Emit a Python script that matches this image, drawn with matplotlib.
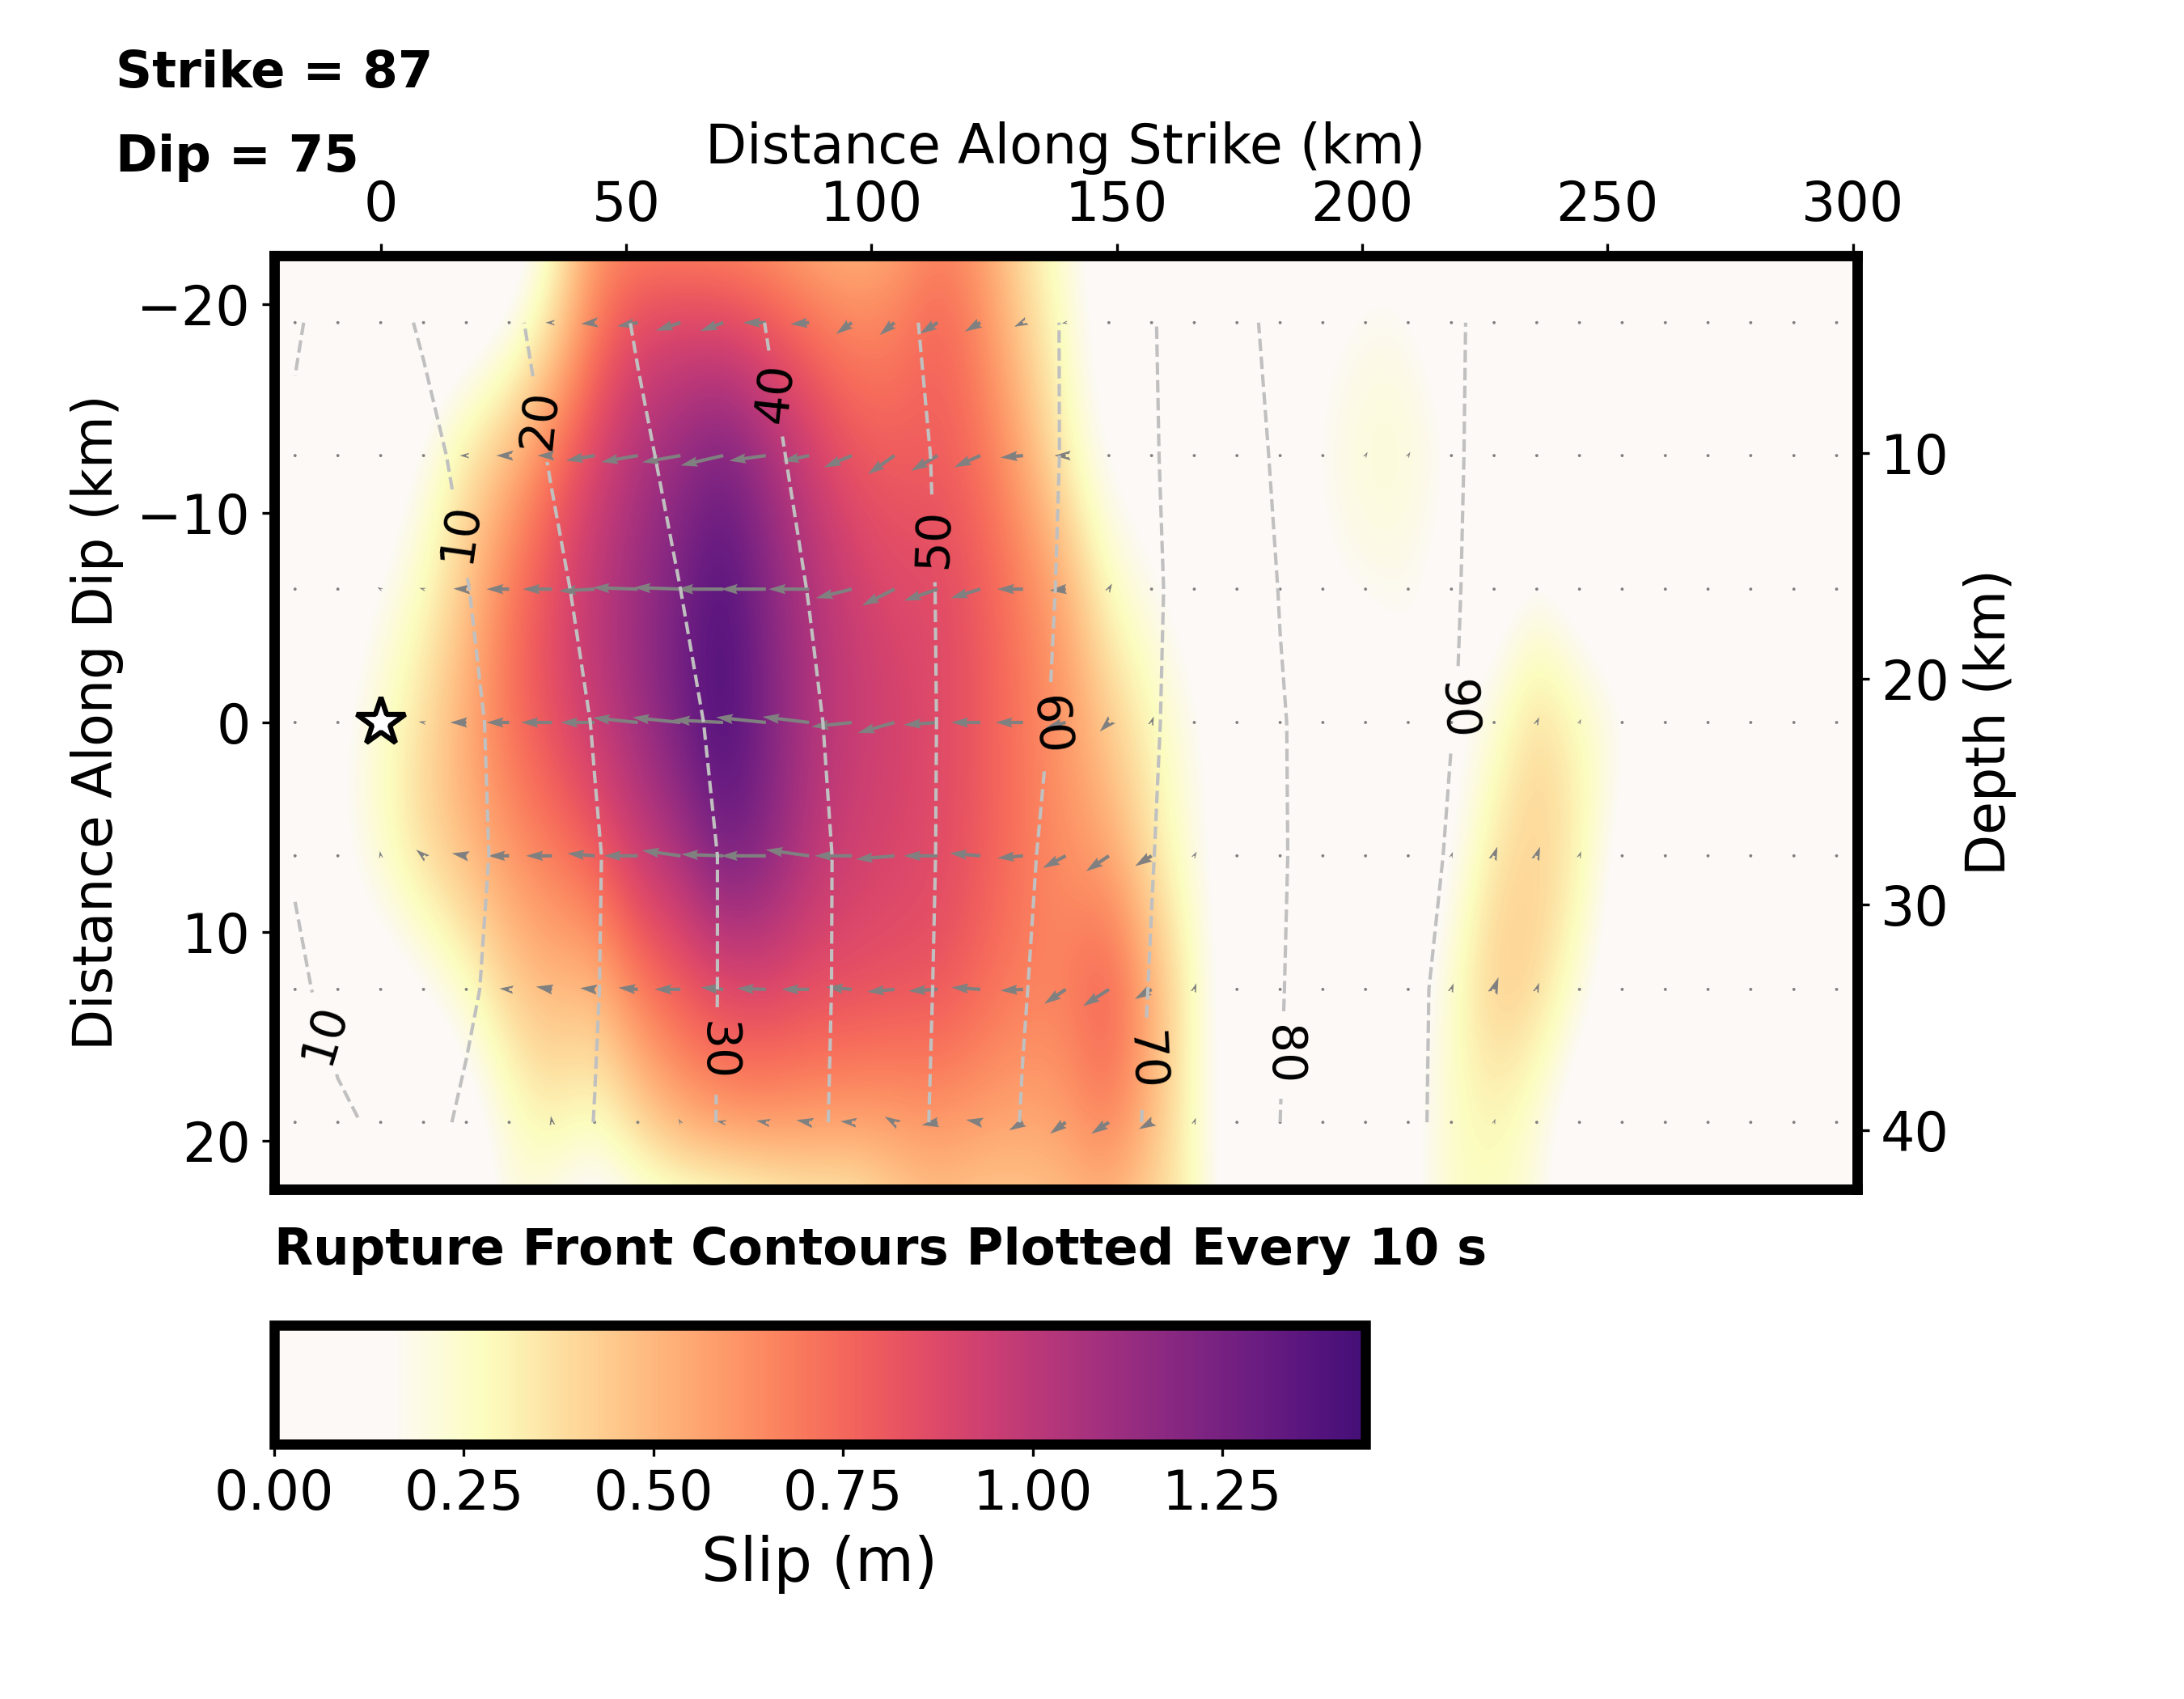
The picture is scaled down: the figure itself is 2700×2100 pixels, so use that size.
import numpy as np
import matplotlib
matplotlib.use('Agg')
import matplotlib.pyplot as plt
from matplotlib.colors import LinearSegmentedColormap

# fault nodes (km)
strike_km = [-17.45, -8.73, 0, 8.73, 17.45, 26.18, 34.9, 43.6, 52.4, 61.1, 69.8, 78.5, 87.3,
             96, 104.7, 113.5, 122.2, 130.9, 139.6, 148.4, 157.1, 165.8, 174.5, 183.3, 192,
             200.7, 209.4, 218.2, 226.9, 235.6, 244.3, 253, 261.8, 270.5, 279.2, 288, 296.7]
dip_km = [-19.1, -12.75, -6.37, 0, 6.37, 12.75, 19.1]

# slip per row (m), first and last rows lie just outside the plotted fault
slip_top = [0, 0, 0, 0, 0, .02, .2, .55, .55, .52, .52, .5, .44, .42, .48, .6, .55, .34, .19, .06,
            0, 0, 0, 0, 0, .08, .05, 0, 0, 0, 0, 0, 0, 0, 0, 0, 0]
slip_a = [0, 0, 0, 0, .03, .12, .33, .68, .86, .88, .86, .8, .72, .65, .67, .78, .65, .42, .25, .08,
          .04, .02, .02, .05, .13, .18, .18, .08, .02, .02, .02, .02, .02, .02, .02, .02, .02]
slip_b = [0, 0, .03, .18, .36, .5, .72, .9, 1.05, 1.15, 1.25, 1.1, .95, .82, .78, .78, .72, .55, .3, .12,
          .08, .05, .05, .08, .18, .23, .23, .17, .04, .02, .02, .02, .02, .02, .02, .02, .02]
slip_c = [.02, .06, .16, .27, .45, .7, .85, 1.0, 1.12, 1.25, 1.4, 1.2, 1.05, .95, .88, .88, .8, .68, .55, .27,
          .17, .08, .04, .03, .14, .18, .18, .1, .05, .17, .06, .02, .02, .02, .02, .02, .02]
slip_d = [.08, .12, .25, .38, .55, .72, .85, .98, 1.1, 1.27, 1.43, 1.22, 1.05, .97, .92, .87, .8, .7, .6, .45,
          .3, .18, .06, .03, .03, .03, .13, .1, .22, .42, .3, .2, .05, .05, .14, .05, .02]
slip_e = [.05, .13, .26, .4, .5, .6, .68, .78, .95, 1.05, 1.27, 1.2, 1.02, .93, .9, .87, .8, .7, .62, .55,
          .35, .2, .05, .03, .03, .03, .03, .12, .36, .42, .33, .08, .02, .02, .02, .02, .02]
slip_f = [.03, .03, .05, .12, .24, .42, .5, .48, .68, .78, .85, .88, .85, .85, .83, .82, .75, .68, .68, .82,
          .55, .28, .05, .02, .02, .02, .05, .26, .45, .42, .22, .05, .02, .02, .02, .02, .02]
slip_g = [0, 0, 0, .02, .06, .22, .33, .25, .4, .55, .62, .62, .6, .58, .58, .6, .58, .55, .58, .68,
          .5, .25, .06, .02, .02, .02, .12, .25, .3, .2, .04, .02, .02, .02, .02, .02, .02]
slip_bottom = [0, 0, 0, 0, 0, .22, .08, 0, .04, .01, 0, .08, .16, .18, .32, .4, .36, .39, .42, .42,
               .36, .32, .04, 0, 0, 0, .1, .26, .26, .22, .06, 0, 0, 0, 0, 0, 0]

# arrow lengths (m) and directions (deg)
arrow_a = [0, 0, 0, 0, .06, .02, .2, .42, .65, .8, .75, .7, .58, .6, .6, .65, .55, .3, .12, .02,
           .02, .01, .01, .01, .06, .07, .01, .01, .01, .01, .01, .01, .01, .01, .03, .03, .01]
arrow_b = [0, 0, 0, .06, .2, .4, .45, .9, 1.15, 1.2, 1.35, 1.15, .85, .93, 1.0, .95, .88, .7, .35, .04,
           .02, 0, 0, .04, .1, .13, .13, .1, 0, .04, 0, 0, 0, 0, .03, 0, 0]
arrow_c = [0, 0, .12, .13, .4, .7, .9, 1.1, 1.4, 1.45, 1.45, 1.4, 1.25, 1.14, 1.12, 1.1, .96, .8, .5, .2,
           .1, 0, 0, .02, .07, .05, .07, 0, 0, .1, 0, 0, 0, 0, .03, 0, 0]
arrow_d = [0, .04, 0, .15, .5, .7, .95, 1.05, 1.4, 1.5, 1.55, 1.55, 1.45, 1.25, 1.18, 1.05, .9, .85, .65, .4,
           .2, .1, 0, 0, .02, 0, .05, 0, .07, .18, .12, .04, .03, .03, .08, 0, 0]
arrow_e = [0, .03, .15, .3, .45, .65, .8, .85, 1.05, 1.2, 1.3, 1.4, 1.35, 1.15, 1.2, 1.05, .95, .8, .8, .85,
           .6, .15, 0, .02, 0, 0, .04, .13, .3, .3, .15, 0, 0, 0, 0, 0, 0]
arrow_f = [0, 0, 0, .05, .04, .3, .5, .45, .6, .8, .7, .9, .85, .8, .85, .9, .9, .7, .8, .95,
           .6, .2, .02, 0, 0, 0, .05, .2, .4, .22, .05, 0, 0, 0, 0, 0, 0]
arrow_g = [0, 0, 0, 0, .02, .07, .2, .02, .05, .13, .2, .3, .4, .35, .35, .5, .45, .5, .6, .65,
           .45, .15, 0, 0, 0, 0, .06, .1, .12, .05, 0, 0, 0, 0, 0, 0, 0]

rake_a = [180, 180, 180, 180, 180, 180, 180, 185, 190, 198, 200, 180, 185, 216, 220, 212, 210, 205, 190, 180,
          180, 60, 60, 60, 60, 60, 60, 60, 60, 60, 60, 60, 60, 60, 60, 60, 60]
rake_b = [180, 180, 180, 180, 180, 180, 180, 190, 190, 190, 193, 188, 192, 203, 215, 210, 204, 185, 180, 180,
          60, 60, 60, 60, 60, 60, 60, 60, 60, 60, 60, 60, 60, 60, 60, 60, 60]
rake_c = [180, 180, 150, 165, 178, 180, 180, 183, 178, 178, 180, 180, 180, 194, 207, 199, 197, 180, 185, 60,
          60, 60, 60, 60, 60, 60, 60, 60, 60, 70, 60, 60, 60, 60, 60, 60, 60]
rake_d = [180, 170, 180, 170, 180, 180, 180, 180, 174, 174, 177, 174, 173, 186, 196, 184, 180, 180, 195, 225,
          70, 60, 60, 60, 60, 60, 60, 60, 60, 65, 65, 60, 60, 60, 60, 60, 60]
rake_e = [180, 120, 100, 140, 170, 180, 180, 175, 180, 172, 178, 180, 172, 180, 185, 180, 175, 185, 208, 214,
          212, 60, 60, 60, 60, 60, 70, 70, 70, 70, 70, 60, 60, 60, 60, 60, 60]
rake_f = [180, 180, 180, 170, 170, 175, 170, 175, 175, 180, 175, 178, 180, 175, 185, 183, 176, 183, 214, 213,
          210, 70, 60, 60, 60, 60, 70, 70, 70, 70, 70, 60, 60, 60, 60, 60, 60]
rake_g = [180, 180, 180, 180, 180, 100, 100, 100, 100, 120, 170, 170, 170, 175, 150, 190, 170, 210, 216, 213,
          208, 70, 60, 60, 60, 60, 70, 70, 70, 70, 60, 60, 60, 60, 60, 60, 60]

# rupture time per row (s)
time_a = [10.6, 7.6, 7.1, 10.9, 14.8, 18.6, 22.6, 26.7, 30.7, 33.8, 36.9, 40.1, 42.9, 45.6, 48.4, 51.3, 54.3, 57.3, 60.5, 65,
          69.5, 73.8, 78.2, 81.8, 83.6, 85.4, 87.4, 89.7, 90.6, 91.5, 92.3, 93.2, 94.1, 95, 95.8, 96.7, 97.6]
time_b = [9.1, 6.4, 5.2, 7.7, 12, 16.3, 20.6, 24.5, 28.6, 32.1, 35.3, 38.6, 41.7, 44.6, 47.5, 50.5, 53.7, 57.1, 60.5, 64.9,
          69.3, 73.3, 77.5, 80.9, 83, 85.2, 87.3, 89.75, 90.6, 91.5, 92.4, 93.3, 94.1, 95, 95.9, 96.8, 97.6]
time_c = [7.9, 4.6, 3.3, 5.4, 9.7, 14, 18.3, 22.3, 26.2, 30, 33.4, 36.8, 40.2, 43.5, 46.8, 50.2, 53.7, 57.2, 60.9, 64.9,
          68.9, 72.8, 76.5, 80.2, 82.5, 84.8, 87.1, 89.8, 90.7, 91.6, 92.4, 93.3, 94.2, 95.1, 95.9, 96.8, 97.7]
time_d = [6.5, 3, 0, 4.2, 8.3, 12.3, 16.4, 20.4, 24.2, 28, 31.7, 35.2, 38.8, 42.5, 46.3, 50.1, 53.9, 57.7, 61.5, 65.4,
          69.3, 72.7, 76.1, 79.6, 82.2, 84.7, 87.2, 89.9, 90.8, 91.7, 92.5, 93.4, 94.3, 95.2, 96, 96.9, 97.8]
time_e = [9, 4.6, 3.1, 5, 8, 11.8, 15.6, 19.4, 23.2, 26.8, 30.5, 34.2, 37.9, 41.8, 46, 50.2, 54.5, 58.8, 62.6, 66.2,
          69.8, 73, 76.2, 79.5, 82.3, 85.1, 87.9, 90.5, 91.3, 92.1, 92.9, 93.7, 94.6, 95.4, 96.3, 97.2, 98]
time_f = [11.9, 6.95, 5.5, 6.8, 8.9, 12.4, 16, 19.6, 23.2, 26.8, 30.5, 34.2, 37.9, 41.9, 46.2, 50.5, 55, 59.6, 63.2, 66.8,
          70.3, 73.4, 76.6, 79.7, 82.7, 85.8, 88.9, 91.2, 91.6, 92.3, 93.1, 94, 94.9, 95.7, 96.6, 97.4, 98.3]
time_g = [14, 11.5, 8.64, 8.04, 11, 14, 17.1, 20.1, 23.6, 27.1, 30.6, 34.4, 38.2, 42.2, 46.5, 50.9, 55.7, 60.4, 63.9, 67.4,
          70.8, 73.8, 76.9, 80, 83, 86, 89, 91.3, 91.7, 92.4, 93.1, 94, 94.9, 95.7, 96.6, 97.5, 98.3]

front_levels = [10, 20, 30, 40, 50, 60, 70, 80, 90]
# contour labels: where they sit and how they are turned
label_spots = [(16.2, -9.1), (-11.9, 14.9), (32.6, -14.5), (69.8, 15.7), (80.3, -15.7),
               (112.9, -8.8), (137.3, 0.2), (156.9, 16.2), (185, 15.9), (219.6, -0.6)]
label_turns = [82, 73, 84, -90, 84, 88, -85, -87, -90, -87]

slip = np.array([slip_top, slip_a, slip_b, slip_c, slip_d, slip_e, slip_f, slip_g, slip_bottom])
arrows = np.array([arrow_a, arrow_b, arrow_c, arrow_d, arrow_e, arrow_f, arrow_g])
rake = np.radians(np.array([rake_a, rake_b, rake_c, rake_d, rake_e, rake_f, rake_g]))
times = np.array([time_a, time_b, time_c, time_d, time_e, time_f, time_g])

# magma_r with the low end washed out to white
base = plt.get_cmap('magma_r')
stops = [(0, '#fdf9f7'), (0.105, '#fdf9f7')]
stops += [(min(1.0, 0.19 + 0.81 * k / 40), base(0.78 * k / 40)) for k in range(41)]
slip_cmap = LinearSegmentedColormap.from_list('slip', stops)

fig = plt.figure(figsize=(9, 7), dpi=300)
ax = fig.add_axes([339 / 2700, 1 - 1470 / 2100, (2296 - 339) / 2700, (1470 - 316) / 2100])

im = ax.imshow(slip, cmap=slip_cmap, vmin=0, vmax=1.4385, aspect='auto', interpolation='bicubic',
               extent=(-21.8, 301, 28.65, -28.65))

X, Y = np.meshgrid(strike_km, dip_km)
ax.quiver(X, Y, arrows * np.cos(rake), arrows * np.sin(rake), color='gray', angles='uv', pivot='tail',
          units='dots', width=4.2, scale_units='dots', scale=1 / 40, minshaft=0.7, zorder=2)

cs = ax.contour(X, Y, times, levels=front_levels, colors='silver', linestyles='dashed', linewidths=1, zorder=3)
ax.clabel(cs, fmt='%d', fontsize=14, inline=True, colors='k', manual=label_spots)
for txt, turn in zip(cs.labelTexts, label_turns):
    txt.set_rotation(turn)

ax.plot(0, 0, marker='*', ms=15, mfc='white', mec='k', mew=1.5, zorder=4)

ax.set_xlim(-21.7, 300.9)
ax.set_ylim(22.3, -22.3)
ax.xaxis.tick_top()
ax.xaxis.set_label_position('top')
ax.set_xticks([0, 50, 100, 150, 200, 250, 300])
ax.set_yticks([-20, -10, 0, 10, 20])
ax.tick_params(labelsize=16)
ax.set_xlabel('Distance Along Strike (km)', fontsize=16, labelpad=4.5)
ax.set_ylabel('Distance Along Dip (km)', fontsize=16)

depth_ax = ax.twinx()
depth_ax.set_ylim(42.6, 1.27)
depth_ax.set_yticks([10, 20, 30, 40])
depth_ax.tick_params(labelsize=16)
depth_ax.set_ylabel('Depth (km)', fontsize=16)
for a in (ax, depth_ax):
    for sp in a.spines.values():
        sp.set_linewidth(3)

fig.text(143 / 2700, 1 - 108 / 2100, 'Strike = 87', fontsize=15, fontweight='bold')
fig.text(143 / 2700, 1 - 212 / 2100, 'Dip = 75', fontsize=15, fontweight='bold')
fig.text(339 / 2700, 1 - 1563 / 2100, 'Rupture Front Contours Plotted Every 10 s', fontsize=15, fontweight='bold')

cax = fig.add_axes([339 / 2700, 1 - 1785 / 2100, (1688 - 339) / 2700, 147 / 2100])
cb = fig.colorbar(im, cax=cax, orientation='horizontal')
cb.set_ticks([0, 0.25, 0.5, 0.75, 1.0, 1.25])
cb.ax.tick_params(labelsize=16)
cb.outline.set_linewidth(3)
cb.set_label('Slip (m)', fontsize=18, labelpad=4)

fig.savefig('out.png')
